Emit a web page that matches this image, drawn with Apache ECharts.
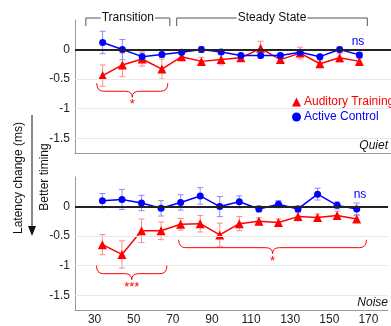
<!DOCTYPE html>
<html>
<head>
<meta charset="utf-8">
<script src="https://cdn.jsdelivr.net/npm/echarts@6/dist/echarts.min.js"></script>
<style>
  html, body { margin: 0; padding: 0; background: #fff; }
  #chart { width: 391px; height: 326px; }
</style>
</head>
<body>
<div id="chart"></div>
<script>
// session midpoints (x)
const sessions = [34, 44, 54, 64, 74, 84, 94, 104, 114, 124, 134, 144, 154, 164];

// Quiet
const trainQuiet = [-0.44, -0.26, -0.16, -0.33, -0.12, -0.2, -0.17, -0.14, 0.02, -0.17, -0.06, -0.24, -0.14, -0.2];
const trainQuietErr = [0.18, 0.2, 0.12, 0.17, 0.05, 0.07, 0.09, 0.05, 0.12, 0.04, 0.1, 0.05, 0.07, 0.05];
const ctrlQuiet = [0.12, 0, -0.12, -0.085, -0.045, 0, -0.04, -0.1, -0.1, -0.1, -0.045, -0.12, 0, -0.09];
const ctrlQuietErr = [0.19, 0.17, 0.06, 0.04, 0.04, 0.05, 0.04, 0.04, 0.04, 0.04, 0.04, 0.04, 0.04, 0.04];

// Noise
const trainNoise = [-0.645, -0.81, -0.41, -0.41, -0.3, -0.29, -0.48, -0.29, -0.25, -0.27, -0.17, -0.185, -0.15, -0.21];
const trainNoiseErr = [0.17, 0.23, 0.2, 0.15, 0.1, 0.14, 0.2, 0.12, 0.06, 0.06, 0.07, 0.06, 0.07, 0.06];
const ctrlNoise = [0.1, 0.12, 0.06, -0.03, 0.07, 0.18, 0, 0.08, -0.04, 0.04, -0.04, 0.21, 0.02, -0.04];
const ctrlNoiseErr = [0.12, 0.17, 0.13, 0.13, 0.13, 0.14, 0.17, 0.1, 0.05, 0.06, 0.05, 0.1, 0.06, 0.1];

const xTickLabels = [30, 50, 70, 90, 110, 130, 150, 170];
const yTickLabels = [0, -0.5, -1, -1.5];

// annotation spans: [x0, x1, yTop] + mark text
const bracesQuiet = [[31, 67, -0.57]];
const bracesQuietMarks = ['*'];
const bracesNoise = [[31, 67, -1.0], [73, 169, -0.56]];
const bracesNoiseMarks = ['***', '*'];
const phases = [[25.5, 68], [71.5, 168]];
const phaseNames = ['Transition', 'Steady State'];

const RED = '#ff0000', BLUE = '#0000ff';
const FONT = 'Liberation Sans, Arial, sans-serif';

let chart = echarts.init(document.getElementById('chart'));

function pts(vals) {
  return sessions.map((x, i) => [x, vals[i]]);
}
function errs(vals, e) {
  return sessions.map((x, i) => [x, vals[i] - e[i], vals[i] + e[i]]);
}

function errorBar(color) {
  return function (params, api) {
    const x = api.value(0);
    const lo = api.coord([x, api.value(1)]);
    const hi = api.coord([x, api.value(2)]);
    const w = 3;
    const st = { stroke: color, lineWidth: 1 };
    return {
      type: 'group',
      children: [
        { type: 'line', shape: { x1: lo[0], y1: lo[1], x2: hi[0], y2: hi[1] }, style: st },
        { type: 'line', shape: { x1: lo[0] - w, y1: lo[1], x2: lo[0] + w, y2: lo[1] }, style: st },
        { type: 'line', shape: { x1: hi[0] - w, y1: hi[1], x2: hi[0] + w, y2: hi[1] }, style: st },
      ],
    };
  };
}

function brace(marks) {
  return function (params, api) {
    const a = api.coord([api.value(0), api.value(2)]);
    const b = api.coord([api.value(1), api.value(2)]);
    const y = a[1], h = 8, tip = 6, r = 7;
    const m = (a[0] + b[0]) / 2;
    const path = 'M' + a[0] + ',' + y +
      ' Q' + a[0] + ',' + (y + h) + ' ' + (a[0] + r) + ',' + (y + h) +
      ' L' + (m - r) + ',' + (y + h) +
      ' Q' + m + ',' + (y + h) + ' ' + m + ',' + (y + h + tip) +
      ' Q' + m + ',' + (y + h) + ' ' + (m + r) + ',' + (y + h) +
      ' L' + (b[0] - r) + ',' + (y + h) +
      ' Q' + b[0] + ',' + (y + h) + ' ' + b[0] + ',' + y;
    return {
      type: 'group',
      children: [
        { type: 'path', shape: { pathData: path }, style: { stroke: RED, fill: null, lineWidth: 1 } },
        {
          type: 'text', x: m, y: y + h + tip + 1,
          style: { text: marks[params.dataIndex], fill: RED, font: '13px ' + FONT, align: 'center', verticalAlign: 'top' },
        },
      ],
    };
  };
}

function phaseBracket(params, api) {
  const a = api.coord([api.value(0), 0.5]);
  const b = api.coord([api.value(1), 0.5]);
  const y = a[1] - 2;
  const st = { stroke: '#555', lineWidth: 1, fill: null };
  const m = (a[0] + b[0]) / 2;
  return {
    type: 'group',
    children: [
      { type: 'polyline', shape: { points: [[a[0], y + 8], [a[0], y], [b[0], y], [b[0], y + 8]] }, style: st },
      {
        type: 'text', x: m, y: y,
        style: { text: phaseNames[params.dataIndex], fill: '#111', font: '12px ' + FONT, align: 'center', verticalAlign: 'middle', backgroundColor: '#fff', padding: [0, 1] },
      },
    ],
  };
}

function refLines() {
  return {
    silent: true,
    symbol: 'none',
    label: { show: false },
    data: [
      { yAxis: -0.5, lineStyle: { color: '#e8e8e8', width: 1, type: 'solid' } },
      { yAxis: -1, lineStyle: { color: '#e8e8e8', width: 1, type: 'solid' } },
      { yAxis: -1.5, lineStyle: { color: '#e8e8e8', width: 1, type: 'solid' } },
      { yAxis: 0, lineStyle: { color: '#222', width: 2, type: 'solid' } },
    ],
  };
}

function yAxis(gridIndex) {
  return {
    type: 'value', gridIndex: gridIndex,
    min: -1.75, max: 0.5, interval: 0.25,
    axisLine: { show: true, lineStyle: { color: '#999' } },
    axisTick: { show: false },
    splitLine: { show: false },
    axisLabel: {
      margin: 5, color: '#222', fontSize: 12, fontFamily: FONT,
      formatter: (v) => (yTickLabels.some((t) => Math.abs(t - v) < 1e-6) ? String(v) : ''),
    },
  };
}

function xAxis(gridIndex, labels) {
  return {
    type: 'value', gridIndex: gridIndex,
    min: 20, max: 180, interval: 10,
    axisLine: { show: true, onZero: false, lineStyle: { color: '#999' } },
    axisTick: { show: false },
    splitLine: { show: false },
    axisLabel: {
      show: labels, margin: 4, color: '#222', fontSize: 12, fontFamily: FONT,
      formatter: (v) => (xTickLabels.indexOf(v) >= 0 ? String(v) : ''),
    },
  };
}

function panel(idx, train, trainErr, ctrl, ctrlErr, braces, marks) {
  return [
    { type: 'line', xAxisIndex: idx, yAxisIndex: idx, data: [], z: 1, markLine: refLines() },
    {
      type: 'custom', xAxisIndex: idx, yAxisIndex: idx, z: 2, silent: true,
      renderItem: errorBar('#ff8a8a'), data: errs(train, trainErr), encode: { x: 0, y: [1, 2] },
    },
    {
      type: 'custom', xAxisIndex: idx, yAxisIndex: idx, z: 2, silent: true,
      renderItem: errorBar('#8a8aff'), data: errs(ctrl, ctrlErr), encode: { x: 0, y: [1, 2] },
    },
    {
      name: 'Auditory Training', type: 'line', xAxisIndex: idx, yAxisIndex: idx, z: 3,
      data: pts(train), symbol: 'triangle', symbolSize: 9, showAllSymbol: true,
      itemStyle: { color: RED }, lineStyle: { color: RED, width: 1.5 },
    },
    {
      name: 'Active Control', type: 'line', xAxisIndex: idx, yAxisIndex: idx, z: 4,
      data: pts(ctrl), symbol: 'circle', symbolSize: 7, showAllSymbol: true,
      itemStyle: { color: BLUE }, lineStyle: { color: BLUE, width: 1.5 },
    },
    {
      type: 'custom', xAxisIndex: idx, yAxisIndex: idx, z: 5, silent: true, clip: false,
      renderItem: brace(marks), data: braces, encode: { x: [0, 1], y: 2 },
    },
  ];
}

let option = {
  animation: false,
  textStyle: { fontFamily: FONT },
  grid: [
    { left: 75, top: 20, width: 317, height: 133 },
    { left: 75, top: 177, width: 317, height: 134 },
  ],
  xAxis: [xAxis(0, false), xAxis(1, true)],
  yAxis: [yAxis(0), yAxis(1)],
  legend: {
    orient: 'vertical', left: 287, top: 91, itemWidth: 9, itemHeight: 9, itemGap: 3,
    textStyle: { fontSize: 12, fontFamily: FONT, padding: [0, 0, 0, -2] },
    data: [
      { name: 'Auditory Training', icon: 'triangle', textStyle: { color: RED } },
      { name: 'Active Control', icon: 'circle', textStyle: { color: BLUE } },
    ],
  },
  series: panel(0, trainQuiet, trainQuietErr, ctrlQuiet, ctrlQuietErr, bracesQuiet, bracesQuietMarks)
    .concat(panel(1, trainNoise, trainNoiseErr, ctrlNoise, ctrlNoiseErr, bracesNoise, bracesNoiseMarks))
    .concat([{
      type: 'custom', xAxisIndex: 0, yAxisIndex: 0, z: 5, silent: true, clip: false,
      renderItem: phaseBracket, data: phases, encode: { x: [0, 1] },
    }]),
  graphic: [
    { type: 'text', x: 19, y: 178, rotation: Math.PI / 2, style: { text: 'Latency change (ms)', fill: '#111', font: '12px ' + FONT, align: 'center', verticalAlign: 'middle' } },
    { type: 'text', x: 45, y: 177, rotation: Math.PI / 2, style: { text: 'Better timing', fill: '#111', font: '12px ' + FONT, align: 'center', verticalAlign: 'middle' } },
    { type: 'line', shape: { x1: 32, y1: 115, x2: 32, y2: 228 }, style: { stroke: '#111', lineWidth: 1 } },
    { type: 'polygon', shape: { points: [[28, 226], [36, 226], [32, 236]] }, style: { fill: '#111' } },
    { type: 'text', x: 358, y: 42, style: { text: 'ns', fill: BLUE, font: '12px ' + FONT, align: 'center', verticalAlign: 'middle' } },
    { type: 'text', x: 360, y: 195, style: { text: 'ns', fill: BLUE, font: '12px ' + FONT, align: 'center', verticalAlign: 'middle' } },
    { type: 'text', x: 388, y: 146, style: { text: 'Quiet', fill: '#111', font: 'italic 12px ' + FONT, align: 'right', verticalAlign: 'middle' } },
    { type: 'text', x: 388, y: 303, style: { text: 'Noise', fill: '#111', font: 'italic 12px ' + FONT, align: 'right', verticalAlign: 'middle' } },
  ],
};

chart.setOption(option);
</script>
</body>
</html>
